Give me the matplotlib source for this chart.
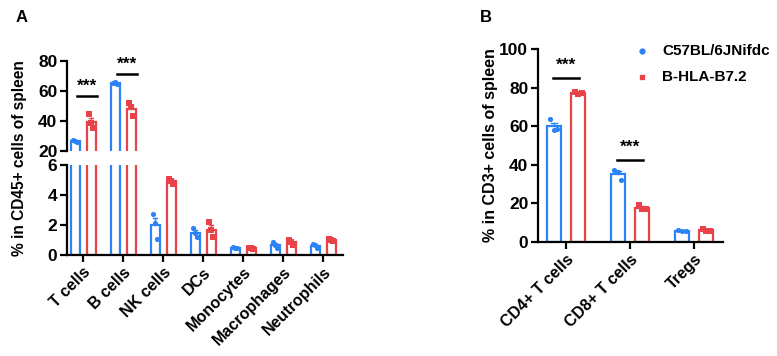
import numpy as np
import matplotlib
matplotlib.use('Agg')
import matplotlib.pyplot as plt

plt.rcParams['font.family'] = ['Liberation Sans', 'DejaVu Sans']
plt.rcParams['font.weight'] = 'bold'

BLUE = '#2B83F6'
RED = '#E8434A'

# panel A data (% in CD45+ cells)
cells_a = ['T cells', 'B cells', 'NK cells', 'DCs', 'Monocytes', 'Macrophages', 'Neutrophils']
wt_a_pts = [[27.3, 26.5, 26.2], [65.3, 66.0, 64.5], [2.73, 2.13, 1.07], [1.78, 1.44, 1.18],
            [0.52, 0.48, 0.47], [0.85, 0.65, 0.50], [0.75, 0.68, 0.45]]
tg_a_pts = [[44.7, 38.7, 35.3], [52.0, 49.3, 43.3], [5.10, 4.95, 4.73], [2.22, 1.67, 1.18],
            [0.48, 0.45, 0.42], [1.00, 0.90, 0.70], [1.10, 1.00, 0.95]]
sig_a = {0: 56.7, 1: 71.3}

# panel B data (% in CD3+ cells)
cells_b = ['CD4+ T cells', 'CD8+ T cells', 'Tregs']
wt_b_pts = [[63.5, 58.0, 58.5], [37.3, 36.4, 32.1], [6.0, 5.9, 5.7]]
tg_b_pts = [[77.8, 76.5, 77.3], [19.2, 17.1, 17.1], [6.6, 5.8, 5.8]]
sig_b = {0: 85.0, 1: 42.5}

legend_labels = ['C57BL/6JNifdc', 'B-HLA-B7.2']

TICK_FS = 12.5
XLAB_FS = 11.5


def draw_group(ax, x, pts, color, marker, w):
    pts = np.array(pts)
    m = pts.mean()
    sem = pts.std(ddof=1) / np.sqrt(len(pts))
    ax.bar(x, m, width=w, facecolor='white', edgecolor=color, linewidth=1.6, zorder=2)
    ax.plot([x, x], [m, m + sem], color=color, lw=1.0, zorder=3)
    ax.plot([x - w * 0.2, x + w * 0.2], [m + sem, m + sem], color=color, lw=1.0, zorder=3)
    jit = np.array([-0.25, 0, 0.25]) * w
    ax.scatter(x + jit, pts, s=14, color=color, marker=marker, zorder=4, linewidths=0)


def style(ax):
    for s in ['top', 'right']:
        ax.spines[s].set_visible(False)
    for s in ['left', 'bottom']:
        ax.spines[s].set_linewidth(1.6)
    ax.tick_params(width=1.6, length=5, labelsize=TICK_FS, pad=2)


fig = plt.figure(figsize=(7.77, 3.56), dpi=100)

# ---- panel A (broken axis) ----
W = 777.0
H = 356.0
ax_top = fig.add_axes([67 / W, 1 - 151 / H, 276 / W, 90 / H])
ax_bot = fig.add_axes([67 / W, 1 - 255 / H, 276 / W, 90 / H])
wa, da = 0.225, 0.2
xa = np.arange(len(cells_a))
for ax in (ax_top, ax_bot):
    for i in xa:
        draw_group(ax, i - da, wt_a_pts[i], BLUE, 'o', wa)
        draw_group(ax, i + da, tg_a_pts[i], RED, 's', wa)
    ax.set_xlim(-0.4, 6.5)
    style(ax)

ax_top.set_ylim(20, 80)
ax_top.set_yticks([20, 40, 60, 80])
ax_top.spines['bottom'].set_visible(False)
ax_top.tick_params(axis='x', bottom=False, labelbottom=False)
for i, y in sig_a.items():
    ax_top.plot([i - 0.15, i + 0.35], [y, y], color='black', lw=1.8, clip_on=False)
    ax_top.text(i + 0.1, y + 1.5, '***', ha='center', va='bottom', fontsize=12.5, fontweight='bold')

ax_bot.set_ylim(0, 6)
ax_bot.set_yticks([0, 2, 4, 6])
ax_bot.set_xticks(xa)
ax_bot.set_xticklabels(cells_a, rotation=45, ha='right', rotation_mode='anchor',
                       fontsize=XLAB_FS, fontweight='bold')

fig.text(20 / W, 1 - 158 / H, '% in CD45+ cells of spleen', rotation=90, ha='center', va='center',
         fontsize=11.2, fontweight='bold')
fig.text(22 / W, 1 - 17 / H, 'A', ha='center', va='center', fontsize=12, fontweight='bold')

# ---- panel B ----
axb = fig.add_axes([538 / W, 1 - 242 / H, 185 / W, 193 / H])
wb, db = 0.22, 0.19
xb = np.arange(len(cells_b))
for i in xb:
    draw_group(axb, i - db, wt_b_pts[i], BLUE, 'o', wb)
    draw_group(axb, i + db, tg_b_pts[i], RED, 's', wb)
axb.set_xlim(-0.4375, 2.45)
axb.set_ylim(0, 100)
axb.set_yticks([0, 20, 40, 60, 80, 100])
style(axb)
axb.set_xticks(xb)
axb.set_xticklabels(cells_b, rotation=45, ha='right', rotation_mode='anchor',
                    fontsize=XLAB_FS, fontweight='bold')
for i, y in sig_b.items():
    axb.plot([i - 0.2, i + 0.2], [y, y], color='black', lw=1.8)
    axb.text(i + 0.0, y + 2.5, '***', ha='center', va='bottom', fontsize=12.5, fontweight='bold')

fig.text(490 / W, 1 - 145 / H, '% in CD3+ cells of spleen', rotation=90, ha='center', va='center',
         fontsize=11.5, fontweight='bold')
fig.text(486 / W, 1 - 17 / H, 'B', ha='center', va='center', fontsize=12, fontweight='bold')

# legend drawn by hand to match the placement
lx = 642 / W
fig.add_artist(plt.Line2D([lx], [1 - 51 / H], marker='o', color=BLUE, markersize=3.5, transform=fig.transFigure))
fig.add_artist(plt.Line2D([lx], [1 - 77 / H], marker='s', color=RED, markersize=3.5, transform=fig.transFigure))
fig.text(662 / W, 1 - 51 / H, legend_labels[0], ha='left', va='center', fontsize=11, fontweight='bold')
fig.text(662 / W, 1 - 77 / H, legend_labels[1], ha='left', va='center', fontsize=11, fontweight='bold')

fig.savefig('out.png', dpi=100, facecolor='white')
